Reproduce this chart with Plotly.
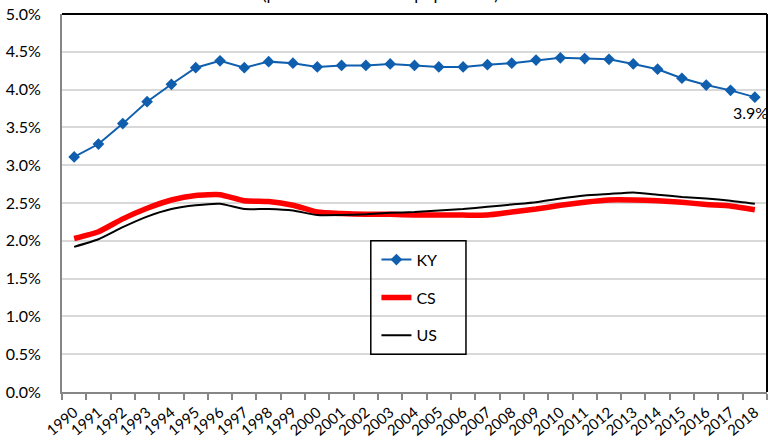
import plotly.graph_objects as go

years = [str(y) for y in range(1990, 2019)]

# Share of the total population, in percent
ky = [3.11, 3.28, 3.55, 3.84, 4.07, 4.29, 4.38, 4.29, 4.37, 4.35,
      4.30, 4.32, 4.32, 4.34, 4.32, 4.30, 4.30, 4.33, 4.35, 4.39,
      4.42, 4.41, 4.40, 4.34, 4.27, 4.15, 4.06, 3.99, 3.90]
cs = [2.03, 2.12, 2.29, 2.43, 2.54, 2.60, 2.61, 2.53, 2.52, 2.47,
      2.38, 2.36, 2.35, 2.35, 2.34, 2.34, 2.34, 2.34, 2.38, 2.42,
      2.47, 2.51, 2.54, 2.54, 2.53, 2.51, 2.48, 2.46, 2.41]
us = [1.92, 2.02, 2.18, 2.32, 2.42, 2.47, 2.49, 2.42, 2.42, 2.40,
      2.34, 2.34, 2.35, 2.37, 2.38, 2.40, 2.42, 2.45, 2.48, 2.51,
      2.56, 2.60, 2.62, 2.64, 2.61, 2.58, 2.56, 2.53, 2.49]

ytick_vals = [i * 0.5 for i in range(11)]
ytick_text = [f"{v:.1f}%" for v in ytick_vals]

FONT = "Lato, 'Open Sans', sans-serif"
BLUE = "#0F5FAE"

fig = go.Figure()
fig.add_trace(go.Scatter(
    x=years, y=ky, name="KY", legendgroup="ky",
    mode="lines+markers",
    line=dict(color=BLUE, width=2),
    marker=dict(symbol="diamond", size=9, color=BLUE),
))
fig.add_trace(go.Scatter(
    x=years, y=cs, name="CS", legendgroup="cs", mode="lines",
    line=dict(color="#FF0000", width=5.5, shape="spline", smoothing=0.5),
))
fig.add_trace(go.Scatter(
    x=years, y=us, name="US", legendgroup="us", mode="lines",
    line=dict(color="#000000", width=2, shape="spline", smoothing=0.5),
))

last = len(years) - 1  # category index of the final year

fig.update_layout(
    width=768, height=447,
    margin=dict(l=62, r=1, t=14, b=55),
    paper_bgcolor="white", plot_bgcolor="white",
    font=dict(family=FONT, size=16, color="#000000"),
    showlegend=True,
    legend=dict(
        x=0.446, y=0.395, xanchor="left", yanchor="top",
        bgcolor="rgba(0,0,0,0)", borderwidth=0,
        tracegroupgap=14, traceorder="grouped",
        font=dict(family=FONT, size=16, color="#000000"),
    ),
    xaxis=dict(
        type="category", range=[-0.5, 28.5],
        tickson="boundaries", ticks="outside", ticklen=6,
        tickcolor="#868686", tickwidth=1.5,
        showline=True, linecolor="#868686", linewidth=2,
        showgrid=False, tickangle=-40, ticklabelstandoff=4,
        tickfont=dict(family=FONT, size=15),
    ),
    yaxis=dict(
        range=[0, 5.0], tickvals=ytick_vals, ticktext=ytick_text,
        showline=True, linecolor="#868686", linewidth=2,
        showgrid=True, gridcolor="#D9D9D9", gridwidth=1.5,
        zeroline=False, ticks="", ticklabelstandoff=16,
        tickfont=dict(family=FONT, size=16),
    ),
    shapes=[
        # legend frame
        dict(type="rect", xref="paper", yref="paper",
             x0=0.438, x1=0.573, y0=0.10, y1=0.400,
             line=dict(color="#000000", width=1.5), fillcolor="rgba(0,0,0,0)"),
        # outer border on top and right
        dict(type="line", xref="paper", yref="paper", x0=0, x1=1, y0=1, y1=1,
             line=dict(color="#000000", width=2)),
        dict(type="line", xref="paper", yref="paper", x0=1, x1=1, y0=0, y1=1,
             line=dict(color="#000000", width=2)),
    ],
    annotations=[
        dict(text="(percent of the total population)", xref="paper", yref="paper",
             x=0.452, y=1.0 + 14 / 378, xanchor="center", yanchor="bottom",
             showarrow=False, font=dict(family=FONT, size=17, color="#000000"),
             yshift=-6),
        # value label on the last KY point
        dict(text=f"{ky[-1]:.1f}%", x=last, y=ky[-1], xref="x", yref="y",
             xanchor="center", yanchor="top", showarrow=False,
             xshift=-4, yshift=-4,
             font=dict(family=FONT, size=16, color="#000000")),
    ],
)

fig.write_html("out.html")
